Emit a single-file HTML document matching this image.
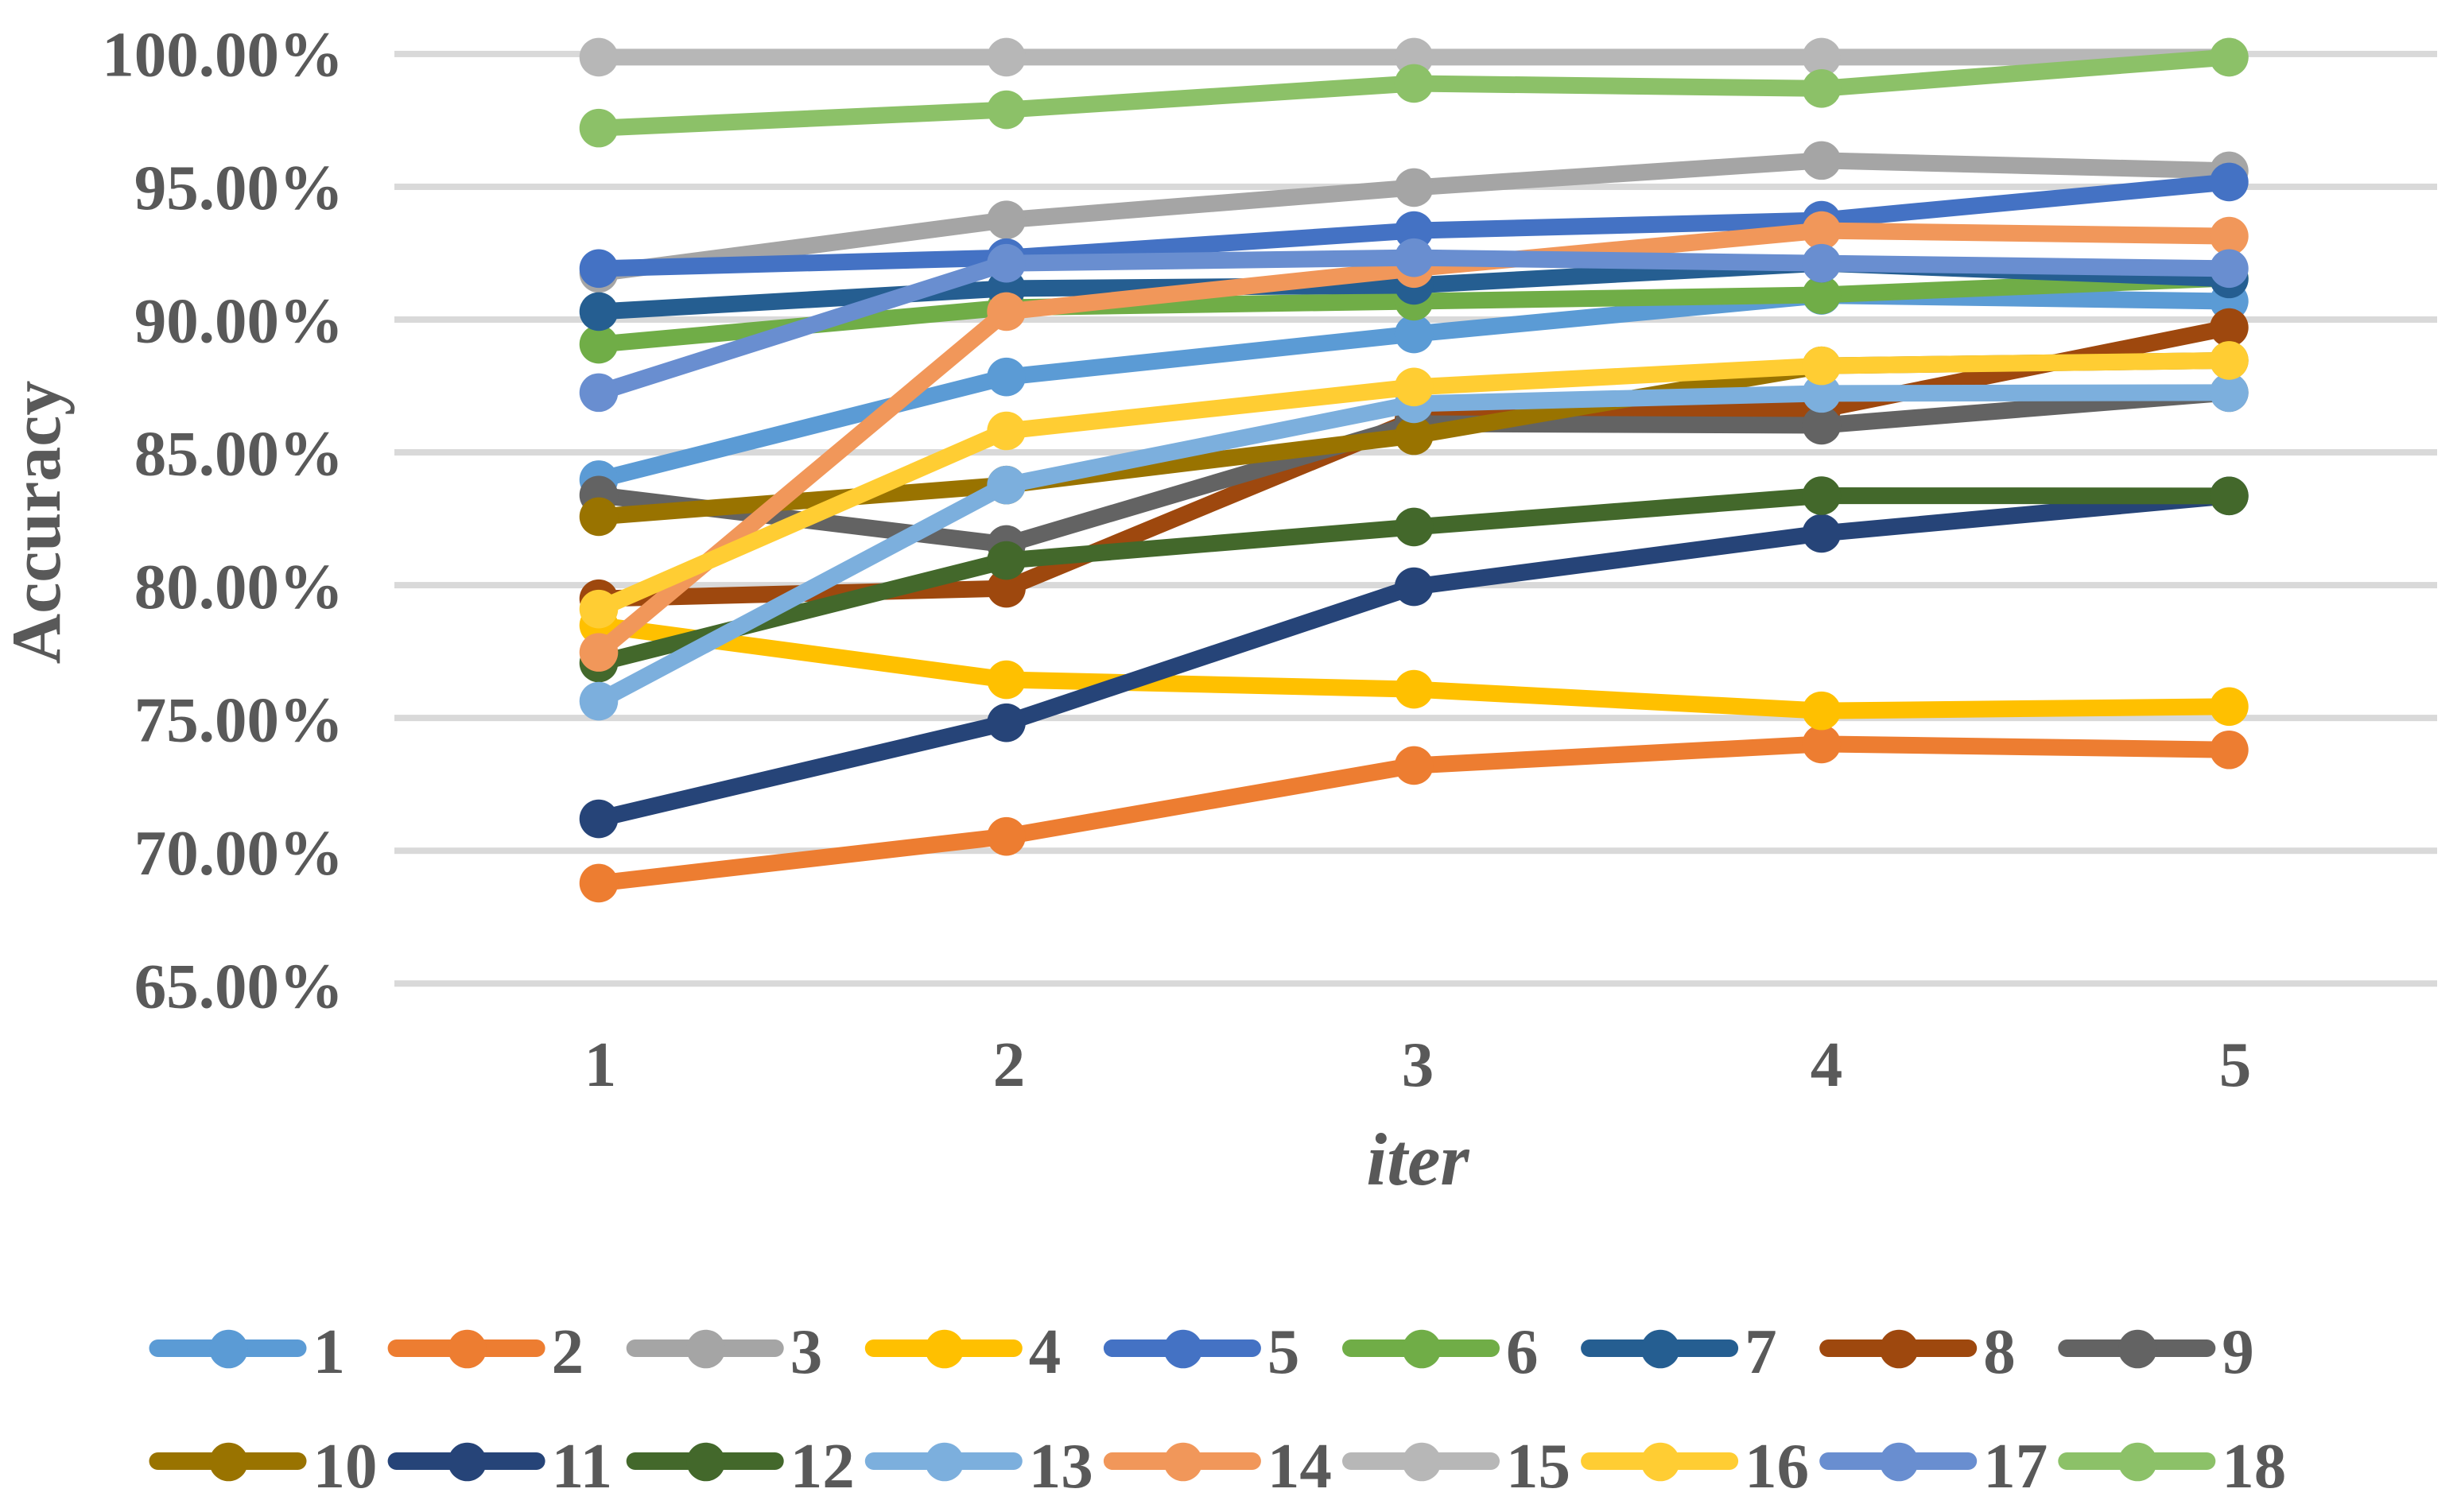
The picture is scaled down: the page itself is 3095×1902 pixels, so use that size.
<!DOCTYPE html>
<html lang="en">
<head>
<meta charset="utf-8">
<title>Accuracy by iteration</title>
<style>
html,body{margin:0;padding:0;background:#fff;width:3095px;height:1902px;overflow:hidden}
svg{display:block}
text{font-family:"Liberation Serif",serif;font-weight:bold;fill:#595959}
</style>
</head>
<body>
<svg id="chart" xmlns="http://www.w3.org/2000/svg" width="3095" height="1902" viewBox="0 0 3095 1902">
  <rect x="0" y="0" width="3095" height="1902" fill="#ffffff"/>
  <g id="grid"></g>
  <g id="yticks"></g>
  <g id="xticks"></g>
  <text transform="translate(75,657) rotate(-90)" text-anchor="middle" font-size="88">Accuracy</text>
  <text x="1783" y="1490" text-anchor="middle" font-size="93" font-style="italic">iter</text>
  <g id="plot"></g>
  <g id="legend"></g>
</svg>
<script>
const iterations = [1, 2, 3, 4, 5];
const yTickValues = [100, 95, 90, 85, 80, 75, 70, 65];
const yTickLabels = ["100.00%", "95.00%", "90.00%", "85.00%", "80.00%", "75.00%", "70.00%", "65.00%"];
const seriesNames = ["1","2","3","4","5","6","7","8","9","10","11","12","13","14","15","16","17","18"];
const seriesColors = ["#5B9BD5","#ED7D31","#A5A5A5","#FFC000","#4472C4","#70AD47","#255E91","#9E480E","#636363","#997300","#264478","#43682B","#7CAFDD","#F1975A","#B7B7B7","#FFCD33","#698ED0","#8CC168"];

const s1  = [83.97, 87.84, 89.46, 90.91, 90.69];
const s2  = [68.78, 70.54, 73.21, 74.02, 73.80];
const s3  = [91.74, 93.75, 94.97, 95.99, 95.60];
const s4  = [78.49, 76.44, 76.08, 75.27, 75.43];
const s5  = [91.92, 92.33, 93.35, 93.74, 95.18];
const s6  = [89.07, 90.45, 90.69, 90.93, 91.56];
const s7  = [90.30, 91.17, 91.29, 92.12, 91.53];
const s8  = [79.49, 79.88, 86.23, 86.62, 89.70];
const s9  = [83.39, 81.53, 86.08, 86.02, 87.25];
const s10 = [82.58, 83.77, 85.63, 88.26, 88.46];
const s11 = [71.20, 74.82, 79.94, 81.95, 83.36];
const s12 = [77.07, 80.93, 82.19, 83.37, 83.36];
const s13 = [75.63, 83.77, 86.83, 87.22, 87.25];
const s14 = [77.47, 90.30, 91.92, 93.35, 93.14];
const s15 = [99.88, 99.88, 99.88, 99.88, 99.88];
const s16 = [79.10, 85.81, 87.46, 88.26, 88.46];
const s17 = [87.25, 92.12, 92.33, 92.12, 91.92];
const s18 = [97.21, 97.90, 98.89, 98.70, 99.88];
const allSeries = [s1,s2,s3,s4,s5,s6,s7,s8,s9,s10,s11,s12,s13,s14,s15,s16,s17,s18];

const NS = "http://www.w3.org/2000/svg";
function xScale(i) { return 753 + i * 512.6; }
function yScale(v) { return 67.9 + (100 - v) * 33.41; }
function make(tag, parent) {
  const el = document.createElementNS(NS, tag);
  parent.appendChild(el);
  return el;
}

const grid = document.getElementById("grid");
const yticks = document.getElementById("yticks");
const xticks = document.getElementById("xticks");
const plot = document.getElementById("plot");
const legend = document.getElementById("legend");

yTickValues.forEach(function (v, i) {
  const line = make("rect", grid);
  
  
  line.setAttribute("x", 496);
  line.setAttribute("y", yScale(v) - 4);
  line.setAttribute("width", 2569);
  line.setAttribute("height", 8);
  line.setAttribute("fill", "#D9D9D9");

  const label = make("text", yticks);
  
  
  label.setAttribute("x", 432);
  label.setAttribute("y", 95.5 + i * 167.4);
  label.setAttribute("text-anchor", "end");
  label.setAttribute("font-size", 81);
  label.textContent = yTickLabels[i];
});

iterations.forEach(function (it, i) {
  const label = make("text", xticks);
  
  
  label.setAttribute("x", 755 + i * 514);
  label.setAttribute("y", 1366);
  label.setAttribute("text-anchor", "middle");
  label.setAttribute("font-size", 81);
  label.textContent = it;
});

allSeries.forEach(function (values, si) {
  const color = seriesColors[si];
  const group = make("g", plot);
  
  

  const path = make("polyline", group);
  
  
  path.setAttribute("points", values.map(function (v, i) { return xScale(i) + "," + yScale(v); }).join(" "));
  path.setAttribute("fill", "none");
  path.setAttribute("stroke", color);
  path.setAttribute("stroke-width", 21);
  path.setAttribute("stroke-linejoin", "round");
  path.setAttribute("stroke-linecap", "round");

  values.forEach(function (v, i) {
    const dot = make("circle", group);
    
    
    dot.setAttribute("cx", xScale(i));
    dot.setAttribute("cy", yScale(v));
    dot.setAttribute("r", 24.3);
    dot.setAttribute("fill", color);
  });
});

seriesNames.forEach(function (name, si) {
  const row = si < 9 ? 0 : 1;
  const col = si < 9 ? si : si - 9;
  const startX = 187.5 + col * 300.1;
  const lineY = 1696 + row * 142;
  const entry = make("g", legend);
  
  

  const swatch = make("line", entry);
  
  
  swatch.setAttribute("x1", startX + 11);
  swatch.setAttribute("x2", startX + 187);
  swatch.setAttribute("y1", lineY);
  swatch.setAttribute("y2", lineY);
  swatch.setAttribute("stroke", seriesColors[si]);
  swatch.setAttribute("stroke-width", 22);
  swatch.setAttribute("stroke-linecap", "round");

  const marker = make("circle", entry);
  
  
  marker.setAttribute("cx", startX + 100);
  marker.setAttribute("cy", lineY + 1);
  marker.setAttribute("r", 24.3);
  marker.setAttribute("fill", seriesColors[si]);

  const label = make("text", entry);
  
  
  label.setAttribute("x", startX + 206);
  label.setAttribute("y", lineY + 31 + row * 2);
  label.setAttribute("font-size", 81);
  label.textContent = name;
});
</script>
</body>
</html>
